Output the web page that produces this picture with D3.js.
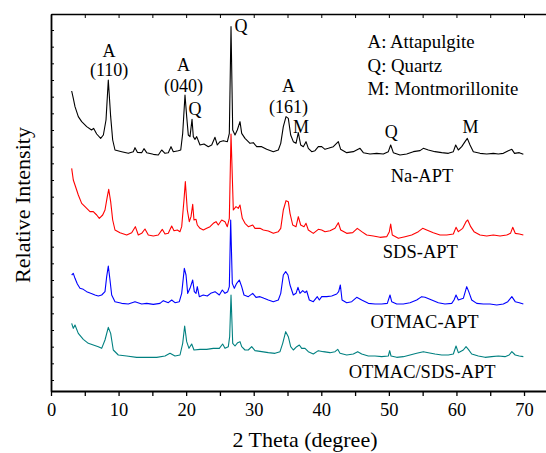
<!DOCTYPE html>
<html>
<head>
<meta charset="utf-8">
<script src="https://cdn.jsdelivr.net/npm/d3@7"></script>
<style>
  body { margin: 0; background: #fff; }
  svg text { font-family: "Liberation Serif", "Times New Roman", serif !important; fill: #000; }
</style>
</head>
<body>
<div id="chart"></div>
<script>
// XRD patterns, [2theta, relative intensity] (patterns already stacked)
const naApt = [
  [3.06, 867], [3.3, 845], [3.55, 820], [4.04, 790], [4.54, 775], [5.28, 760], [6.0, 750], [6.3, 755],
  [6.76, 738], [7.35, 725], [7.75, 735], [8.14, 780], [8.48, 900], [8.83, 790], [9.13, 720], [9.47, 690],
  [10.46, 685], [11.44, 680], [12.18, 685], [12.43, 697], [12.78, 683], [13.42, 682], [13.76, 694],
  [14.16, 682], [15.14, 677], [15.88, 675], [16.38, 690], [16.87, 680], [17.36, 682], [17.76, 700],
  [18.1, 685], [18.84, 688], [19.2, 690], [19.49, 740], [19.83, 855], [20.08, 790], [20.32, 735],
  [20.57, 730], [20.87, 782], [21.06, 730], [21.31, 722], [21.56, 730], [22.05, 705], [22.64, 708],
  [23.28, 700], [23.78, 705], [24.27, 728], [24.61, 705], [25.01, 715], [25.5, 718], [26.1, 715],
  [26.39, 740], [26.64, 1060], [26.89, 750], [27.23, 735], [27.57, 750], [27.97, 775], [28.22, 740],
  [28.71, 725], [29.45, 710], [29.94, 712], [30.44, 700], [31.18, 700], [31.92, 692], [32.9, 685],
  [33.64, 690], [34.0, 710], [34.38, 760], [34.78, 790], [35.12, 785], [35.47, 735], [35.86, 715],
  [36.26, 710], [36.6, 742], [36.95, 705], [37.34, 700], [37.74, 715], [38.08, 695], [38.58, 685],
  [39.07, 688], [39.56, 700], [40.06, 700], [40.55, 692], [41.04, 695], [41.78, 700], [42.52, 715],
  [42.87, 692], [43.76, 682], [44.74, 685], [45.73, 695], [46.22, 682], [47.21, 678], [48.2, 680],
  [49.18, 678], [49.92, 685], [50.27, 705], [50.66, 682], [51.65, 675], [52.64, 678], [53.62, 685],
  [54.61, 688], [55.1, 695], [55.84, 690], [56.83, 685], [57.82, 682], [58.8, 680], [59.54, 685],
  [59.89, 705], [60.28, 690], [60.78, 700], [61.27, 715], [61.61, 725], [62.01, 705], [62.5, 685],
  [63.49, 680], [64.48, 678], [65.46, 680], [66.2, 678], [66.94, 680], [67.68, 688], [68.2, 692],
  [68.6, 680], [69.3, 682], [69.9, 677]
];

const sdsApt = [
  [3.06, 635], [3.3, 600], [3.55, 585], [4.04, 555], [4.54, 530], [5.03, 520], [5.77, 505], [6.26, 505],
  [6.76, 495], [7.15, 485], [7.65, 495], [7.99, 510], [8.33, 550], [8.54, 572], [8.83, 535], [9.13, 480],
  [9.47, 450], [10.21, 442], [11.2, 435], [11.94, 442], [12.48, 460], [12.92, 435], [13.42, 440],
  [13.91, 453], [14.4, 435], [15.14, 432], [15.88, 435], [16.47, 452], [16.87, 438], [17.36, 440],
  [17.86, 462], [18.2, 448], [18.69, 450], [19.09, 445], [19.34, 460], [19.68, 540], [19.88, 595],
  [20.17, 510], [20.47, 475], [20.72, 490], [20.97, 527], [21.16, 480], [21.46, 482], [21.65, 465],
  [22.05, 455], [22.54, 450], [23.04, 455], [23.53, 460], [24.02, 470], [24.42, 475], [24.76, 465],
  [25.26, 480], [25.75, 475], [26.09, 460], [26.39, 485], [26.64, 738], [26.98, 510], [27.38, 520],
  [27.72, 515], [27.97, 525], [28.31, 485], [28.71, 470], [29.2, 460], [29.85, 465], [30.19, 455],
  [30.93, 455], [31.42, 450], [32.16, 447], [32.9, 440], [33.64, 445], [34.0, 455], [34.38, 510],
  [34.78, 538], [35.12, 535], [35.37, 500], [35.77, 465], [36.26, 460], [36.6, 490], [36.95, 465],
  [37.44, 460], [37.74, 470], [38.08, 450], [38.82, 440], [39.56, 452], [40.06, 450], [40.55, 445],
  [41.29, 448], [42.03, 455], [42.52, 472], [42.87, 450], [43.76, 440], [44.65, 442], [45.33, 455],
  [45.98, 445], [46.72, 435], [47.7, 432], [48.69, 428], [49.68, 430], [50.07, 445], [50.27, 468],
  [50.51, 435], [51.4, 425], [52.39, 430], [53.38, 435], [54.36, 445], [55.0, 455], [55.6, 450],
  [56.58, 442], [57.57, 435], [58.56, 435], [59.54, 438], [59.94, 458], [60.28, 445], [60.93, 455],
  [61.42, 475], [61.67, 480], [62.11, 460], [62.6, 445], [63.49, 435], [64.48, 432], [65.46, 435],
  [66.45, 432], [67.44, 435], [68.0, 440], [68.33, 458], [68.7, 440], [69.3, 438], [69.9, 435]
];

const otmacApt = [
  [3.06, 315], [3.3, 320], [3.55, 305], [3.9, 288], [4.29, 275], [4.78, 272], [5.28, 265], [5.87, 260],
  [6.51, 255], [7.0, 252], [7.5, 255], [7.99, 265], [8.24, 310], [8.48, 342], [8.73, 300], [8.98, 255],
  [9.47, 235], [10.46, 230], [11.44, 228], [12.43, 235], [13.42, 228], [14.16, 230], [15.14, 227],
  [16.13, 230], [16.62, 238], [17.36, 232], [17.86, 240], [18.35, 232], [18.99, 235], [19.34, 260],
  [19.73, 335], [19.98, 315], [20.23, 260], [20.57, 275], [20.97, 300], [21.21, 265], [21.46, 260],
  [21.65, 280], [21.95, 250], [22.54, 255], [23.13, 252], [23.63, 260], [24.27, 265], [24.91, 255],
  [25.35, 270], [25.75, 260], [26.15, 265], [26.39, 280], [26.59, 480], [26.83, 290], [27.13, 275],
  [27.48, 290], [27.87, 300], [28.22, 280], [28.56, 255], [29.2, 250], [29.85, 260], [30.34, 248],
  [30.93, 250], [31.52, 245], [32.16, 240], [32.9, 235], [33.64, 240], [34.0, 260], [34.38, 315],
  [34.73, 325], [35.07, 315], [35.37, 285], [35.86, 255], [36.26, 260], [36.55, 278], [36.85, 260],
  [37.25, 268], [37.59, 262], [37.84, 267], [38.23, 240], [38.82, 235], [39.41, 250], [39.71, 240],
  [40.06, 250], [40.8, 250], [41.54, 252], [42.28, 258], [42.57, 265], [42.82, 285], [43.07, 240],
  [43.76, 232], [44.5, 235], [45.24, 248], [45.98, 240], [46.96, 230], [47.95, 228], [48.94, 228],
  [49.77, 230], [50.17, 255], [50.42, 235], [51.16, 228], [52.14, 228], [53.13, 232], [54.12, 240],
  [54.86, 250], [55.35, 248], [56.34, 240], [57.32, 232], [58.31, 228], [59.3, 230], [59.64, 240],
  [59.94, 255], [60.28, 240], [61.02, 245], [61.52, 280], [61.82, 265], [62.26, 240], [63.0, 230],
  [63.98, 228], [64.97, 228], [65.96, 225], [66.94, 228], [67.6, 235], [68.2, 250], [68.7, 235],
  [69.3, 232], [69.9, 228]
];

const otmacSdsApt = [
  [3.06, 170], [3.3, 155], [3.55, 165], [4.04, 140], [4.78, 122], [5.52, 110], [6.26, 105], [7.0, 100],
  [7.5, 95], [7.99, 120], [8.48, 158], [8.83, 140], [9.22, 90], [9.96, 75], [11.2, 72], [12.68, 68],
  [14.16, 68], [15.64, 68], [16.87, 72], [17.61, 80], [18.35, 72], [19.09, 75], [19.49, 110],
  [19.78, 162], [20.08, 115], [20.42, 95], [20.82, 108], [21.16, 90], [22.05, 92], [23.04, 92],
  [24.02, 95], [24.91, 95], [25.4, 108], [25.75, 95], [26.24, 100], [26.44, 130], [26.64, 255],
  [26.89, 110], [27.23, 102], [27.63, 112], [27.97, 115], [28.22, 100], [28.71, 90], [29.2, 90],
  [29.7, 100], [30.19, 88], [31.18, 85], [32.16, 82], [33.15, 80], [33.89, 85], [34.29, 110],
  [34.73, 145], [35.12, 130], [35.47, 100], [35.86, 90], [36.36, 100], [36.75, 105], [37.1, 95],
  [37.59, 95], [38.08, 85], [38.82, 78], [39.56, 88], [40.3, 85], [41.29, 82], [42.03, 85],
  [42.43, 92], [42.77, 80], [43.76, 75], [44.74, 78], [45.39, 85], [45.98, 78], [46.96, 72],
  [47.95, 72], [48.94, 70], [49.92, 72], [50.12, 88], [50.32, 72], [51.16, 68], [52.14, 70],
  [53.13, 75], [54.12, 80], [55.1, 85], [55.84, 82], [56.83, 78], [57.82, 75], [58.8, 75], [59.54, 78],
  [59.94, 102], [60.28, 82], [61.02, 90], [61.42, 100], [61.76, 92], [62.26, 78], [63.24, 72],
  [64.23, 68], [65.22, 70], [66.2, 72], [67.19, 70], [67.8, 75], [68.2, 85], [68.7, 75], [69.3, 72],
  [69.9, 70]
];

const seriesNames = ["Na-APT", "SDS-APT", "OTMAC-APT", "OTMAC/SDS-APT"];
const seriesColors = ["#000000", "#ff0000", "#0000ff", "#008080"];
const xTickValues = [0, 10, 20, 30, 40, 50, 60, 70];

// label anchors in data space: [2theta, intensity, text]
const peakLabels = [
  [8.6, 970, "A"], [8.6, 912, "(110)"],
  [19.62, 927, "A"], [19.62, 865, "(040)"], [21.3, 795, "Q"],
  [28.1, 1043, "Q"],
  [35.15, 865, "A"], [35.15, 800, "(161)"], [37.0, 742, "M"],
  [50.36, 725, "Q"], [62.07, 740, "M"]
];
const legendLines = ["A: Attapulgite", "Q: Quartz", "M: Montmorillonite"];
const seriesLabelPos = [[54.9, 595], [54.66, 365], [55.28, 157], [54.93, 5]];

const width = 546, height = 453;
const margin = { left: 51, top: 14, bottom: 62 };

const svg = d3.select("#chart").append("svg")
  .attr("width", width)
  .attr("height", height);

const x = d3.scaleLinear().domain([0, 75]).range([margin.left, 557.8]);
const y = d3.scaleLinear().domain([-33, 1098]).range([height - margin.bottom, margin.top]);

const allSeries = [naApt, sdsApt, otmacApt, otmacSdsApt];

const line = d3.line()
  .x(d => x(d[0]))
  .y(d => y(d[1]));

allSeries.forEach((s, i) => {
  svg.append("path")
    .datum(s)
    .attr("fill", "none")
    .attr("stroke", seriesColors[i])
    .attr("stroke-width", 1.1)
    .attr("stroke-linejoin", "round")
    .attr("d", line);
});

// bottom axis
const axisB = svg.append("g")
  .attr("transform", `translate(0,${y.range()[0]})`)
  .call(d3.axisBottom(x)
    .tickValues(d3.range(0, 76, 5))
    .tickSize(5)
    .tickSizeOuter(0)
    .tickPadding(7)
    .tickFormat(d => xTickValues.includes(d) ? d : ""));
axisB.attr("font-family", null);
axisB.select(".domain").attr("stroke-width", 1.8);
axisB.selectAll(".tick line").attr("stroke-width", 1.3);
axisB.selectAll("text").attr("font-size", 18.5);

// top axis
const axisT = svg.append("g")
  .attr("transform", `translate(0,${margin.top})`)
  .call(d3.axisBottom(x)
    .tickValues(d3.range(0, 76, 5))
    .tickSize(4)
    .tickSizeOuter(0)
    .tickFormat(""));
axisT.select(".domain").attr("stroke-width", 1.5);

// left axis
const axisL = svg.append("g")
  .attr("transform", `translate(${margin.left},0)`)
  .call(d3.axisRight(y)
    .tickValues(d3.range(0, 1051, 50))
    .tickSize(3)
    .tickSizeOuter(0)
    .tickFormat(""));
axisL.select(".domain").attr("stroke-width", 1.8);

// axis titles
svg.append("text")
  .attr("x", 305)
  .attr("y", 447)
  .attr("text-anchor", "middle")
  .attr("font-size", 22)
  .text("2 Theta (degree)");

svg.append("text")
  .attr("transform", `translate(30,205) rotate(-90)`)
  .attr("text-anchor", "middle")
  .attr("font-size", 22)
  .text("Relative Intensity");

// peak labels
svg.selectAll(".peak")
  .data(peakLabels)
  .enter()
  .append("text")
  .attr("class", "peak")
  .attr("x", d => x(d[0]))
  .attr("y", d => y(d[1]))
  .attr("text-anchor", "middle")
  .attr("font-size", 18)
  .text(d => d[2]);

// phase key
svg.selectAll(".key")
  .data(legendLines)
  .enter()
  .append("text")
  .attr("class", "key")
  .attr("x", x(46.85))
  .attr("y", (d, i) => 48 + i * 23.5)
  .attr("font-size", 18.8)
  .text(d => d);

// sample names
svg.selectAll(".name")
  .data(seriesNames)
  .enter()
  .append("text")
  .attr("class", "name")
  .attr("x", (d, i) => x(seriesLabelPos[i][0]))
  .attr("y", (d, i) => y(seriesLabelPos[i][1]))
  .attr("text-anchor", "middle")
  .attr("font-size", 18.5)
  .text(d => d);
</script>
</body>
</html>
